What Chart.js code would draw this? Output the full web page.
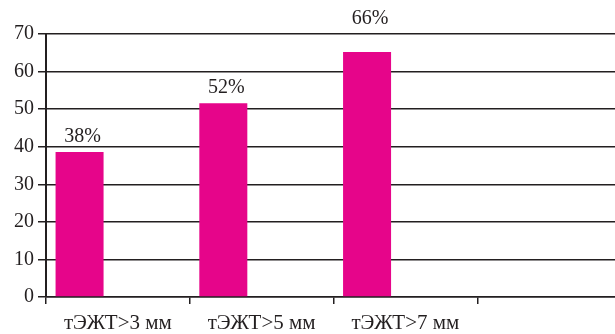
<!DOCTYPE html>
<html><head><meta charset="utf-8">
<script src="https://cdn.jsdelivr.net/npm/chart.js@4"></script>
<style>html,body{margin:0;padding:0;background:#fff;overflow:hidden;width:615px;height:334px}canvas{display:block}</style>
</head><body>
<canvas id="c" width="621" height="334"></canvas>
<script>
const categories = ['тЭЖТ>3 мм', 'тЭЖТ>5 мм', 'тЭЖТ>7 мм', ''];
const values = [38.6, 51.6, 65.2, null];
const emptySeries = [null, null, null, null];
const valueLabels = ['38%', '52%', '66%', ''];
const yMin = 0, yMax = 70, yStep = 10;

const INK = '#231f20';
const FONT = "'Liberation Serif', 'Times New Roman', serif";

const labelPlugin = {
  id: 'valueLabels',
  afterDatasetsDraw(chart) {
    const meta = chart.getDatasetMeta(0);
    const ctx = chart.ctx;
    const top = chart.chartArea.top;
    ctx.save();
    ctx.font = '20px ' + FONT;
    ctx.fillStyle = INK;
    ctx.textAlign = 'center';
    ctx.textBaseline = 'alphabetic';
    meta.data.forEach((el, i) => {
      if (values[i] == null) return;
      let base = el.y - 10;
      // keep the label clear of the top gridline
      if (base - 15 < top + 2) base = top - 10;
      ctx.fillText(valueLabels[i], el.x + 3, base);
    });
    ctx.restore();
  }
};

new Chart(document.getElementById('c'), {
  type: 'bar',
  data: {
    labels: categories,
    datasets: [
      { data: values, backgroundColor: '#e6058a', borderWidth: 0,
        categoryPercentage: 1.066, barPercentage: 0.6265 },
      { data: emptySeries, backgroundColor: 'rgba(0,0,0,0)',
        categoryPercentage: 1.066, barPercentage: 0.6265 }
    ]
  },
  options: {
    responsive: false,
    animation: false,
    devicePixelRatio: 1,
    layout: { padding: { top: 34, right: 0, left: 0, bottom: 0 } },
    plugins: { legend: { display: false }, tooltip: { enabled: false } },
    scales: {
      x: {
        offset: true,
        grid: { display: true, offset: true, drawOnChartArea: false, drawTicks: true,
                tickLength: 7, color: INK, lineWidth: 1.5 },
        border: { display: true, color: INK, width: 1.5 },
        ticks: { color: INK, font: { family: FONT, size: 21 }, padding: 7, maxRotation: 0, autoSkip: false },
        afterFit(s) { s.height = 37; }
      },
      y: {
        min: yMin, max: yMax,
        ticks: { stepSize: yStep, color: INK, font: { family: FONT, size: 20 }, padding: 4 },
        grid: { color: INK, lineWidth: 1.5, drawTicks: true, tickLength: 8 },
        border: { display: true, color: INK, width: 2 },
        afterFit(s) { s.width = 46; }
      }
    }
  },
  plugins: [labelPlugin]
});
</script>
</body></html>
